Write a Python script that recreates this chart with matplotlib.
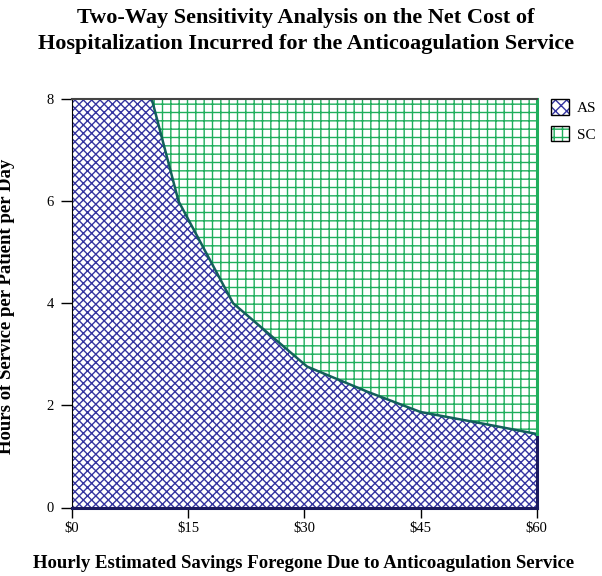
import matplotlib
matplotlib.use('Agg')
import matplotlib.pyplot as plt
from matplotlib.patches import Patch

# boundary between the two regions
savings = [0, 10.3, 13.75, 20.8, 30.35, 38.1, 45, 52.8, 60]
hours = [8, 8, 6, 4, 2.76, 2.27, 1.87, 1.65, 1.44]
xticks = [0, 15, 30, 45, 60]
xlabels = ['$0', '$15', '$30', '$45', '$60']
yticks = [0, 2, 4, 6, 8]
series = ['AS', 'SC']

blue = '#3434a0'
green = '#1fae5c'
navy = '#1a1a5e'

plt.rcParams['font.family'] = 'Liberation Serif'
plt.rcParams['hatch.linewidth'] = 1.0

fig = plt.figure(figsize=(6.02, 5.76), dpi=100)
ax = fig.add_axes([72 / 602, 1 - 507.5 / 576, 464.7 / 602, 408.5 / 576])

ax.fill_between(savings, 0, hours, facecolor='white', edgecolor=blue,
                hatch='xxxx', linewidth=0)
ax.fill_between(savings, hours, 8, facecolor='white', edgecolor=green,
                hatch='++', linewidth=0)
ax.plot(savings[1:], hours[1:], color='#12605a', linewidth=1.8)

# right border: navy under the curve, green above it
ax.plot([savings[-1], savings[-1]], [0, hours[-1]], color=navy, linewidth=2.2,
        clip_on=False)
ax.plot([savings[-1], savings[-1]], [hours[-1], 8], color=green, linewidth=2.2,
        clip_on=False)
ax.spines['right'].set_visible(False)

ax.set_xlim(0, 60)
ax.set_ylim(0, 8)
ax.set_xticks(xticks)
ax.set_xticklabels(xlabels)
ax.set_yticks(yticks)
ax.tick_params(direction='out', width=1, labelsize=10.5)
ax.tick_params(axis='x', length=7.5, pad=3)
ax.tick_params(axis='y', length=8, pad=5)

ax.spines['left'].set_color('black')
ax.spines['top'].set_color('#444444')
ax.spines['top'].set_linewidth(1.5)
ax.spines['bottom'].set_color(navy)
ax.spines['bottom'].set_linewidth(2.2)

h_as = (Patch(facecolor='white', edgecolor=blue, hatch='xxx', linewidth=0),
        Patch(facecolor='none', edgecolor='black', linewidth=1))
h_sc = (Patch(facecolor='white', edgecolor=green, hatch='++', linewidth=0),
        Patch(facecolor='none', edgecolor='black', linewidth=1))
fig.legend([h_as, h_sc], series, loc='upper left',
           bbox_to_anchor=(551 / 602, 1 - 99 / 576),
           bbox_transform=fig.transFigure, frameon=False, fontsize=11,
           handlelength=1.2, handleheight=1.2, handletextpad=0.5,
           labelspacing=0.7, borderaxespad=0, borderpad=0)

fig.text(306 / 602, 1 - 18 / 576, 'Two-Way Sensitivity Analysis on the Net Cost of',
         ha='center', va='center', fontsize=16, fontweight='bold')
fig.text(306 / 602, 1 - 44 / 576, 'Hospitalization Incurred for the Anticoagulation Service',
         ha='center', va='center', fontsize=16, fontweight='bold')
fig.text(304 / 602, 1 - 563 / 576,
         'Hourly Estimated Savings Foregone Due to Anticoagulation Service',
         ha='center', va='center', fontsize=13.5, fontweight='bold')
fig.text(7 / 602, 1 - 306 / 576, 'Hours of Service per Patient per Day',
         ha='center', va='center', rotation=90, fontsize=13.5, fontweight='bold')

fig.savefig('out.png', dpi=100)
